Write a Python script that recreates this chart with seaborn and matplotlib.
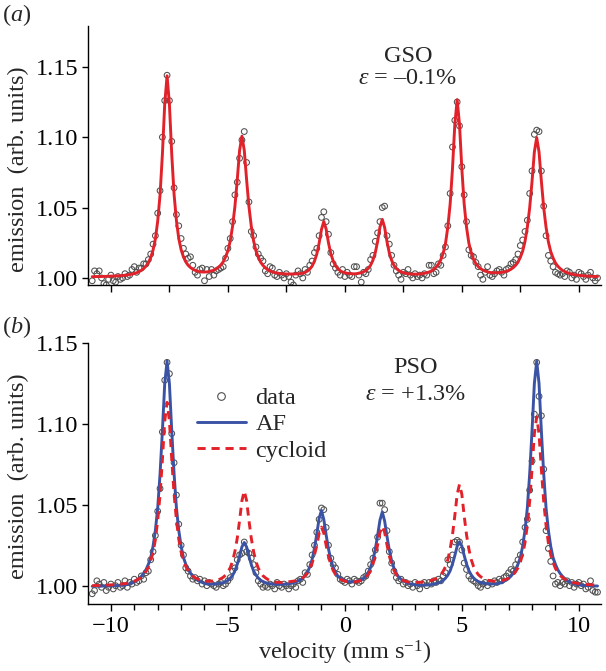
import numpy as np
import matplotlib
matplotlib.use('Agg')
import matplotlib.pyplot as plt
from matplotlib.lines import Line2D
from matplotlib.ticker import MultipleLocator, FormatStrFormatter
import seaborn as sns

# velocity channels (mm/s)
velocity = np.round(np.linspace(-10.8, 10.8, 217), 1)

# (a) GSO, epsilon = -0.1 %
gso_data = [
    0.998, 1.005, 1.003, 1.005, 1.000, 0.996, 0.995, 0.999, 1.002, 0.998,
    0.997, 1.001, 0.999, 1.000, 1.003, 1.001, 1.002, 1.006, 1.008, 1.004,
    1.007, 1.007, 1.010, 1.010, 1.013, 1.017, 1.024, 1.030, 1.046, 1.062,
    1.100, 1.126, 1.144, 1.126, 1.097, 1.064, 1.045, 1.037, 1.028, 1.021,
    1.017, 1.014, 1.015, 1.009, 1.004, 1.002, 1.006, 1.007, 0.998, 1.006,
    1.001, 1.006, 1.002, 1.005, 1.006, 1.007, 1.008, 1.014, 1.021, 1.028,
    1.040, 1.059, 1.068, 1.085, 1.098, 1.104, 1.082, 1.054, 1.033, 1.030,
    1.022, 1.017, 1.014, 1.012, 1.005, 1.003, 1.008, 1.007, 1.002, 1.001,
    1.004, 1.002, 1.000, 1.003, 1.001, 0.997, 0.995, 1.002, 1.005, 1.003,
    1.000, 1.006, 1.004, 1.009, 1.012, 1.018, 1.021, 1.030, 1.043, 1.047,
    1.040, 1.031, 1.018, 1.010, 1.007, 1.004, 1.002, 1.006, 1.001, 1.004,
    1.002, 1.001, 1.008, 1.008, 1.002, 0.997, 1.004, 1.003, 1.006, 1.013,
    1.016, 1.026, 1.032, 1.040, 1.050, 1.051, 1.030, 1.024, 1.016, 1.009,
    1.005, 1.002, 0.999, 1.004, 1.003, 1.006, 1.002, 1.000, 1.003, 1.001,
    1.002, 1.000, 1.003, 1.002, 1.009, 1.009, 1.003, 1.004, 1.010, 1.009,
    1.016, 1.022, 1.037, 1.060, 1.093, 1.112, 1.125, 1.108, 1.079, 1.059,
    1.040, 1.020, 1.016, 1.015, 1.011, 1.008, 1.002, 0.999, 1.004, 1.008,
    1.002, 1.001, 1.003, 1.005, 1.006, 1.004, 1.002, 1.006, 1.007, 1.010,
    1.011, 1.013, 1.017, 1.023, 1.027, 1.033, 1.041, 1.060, 1.076, 1.102,
    1.105, 1.104, 1.076, 1.051, 1.030, 1.016, 1.012, 1.008, 1.004, 1.003,
    1.002, 1.003, 1.001, 1.005, 1.004, 1.000, 1.002, 0.999, 1.004, 1.003,
    1.001, 0.999, 1.002, 1.004, 1.000, 0.998, 1.000,
]
gso_fit = [
    1.0009, 1.0009, 1.0010, 1.0010, 1.0010, 1.0011, 1.0011, 1.0012, 1.0013, 1.0013,
    1.0014, 1.0015, 1.0016, 1.0017, 1.0019, 1.0021, 1.0024, 1.0027, 1.0031, 1.0037,
    1.0044, 1.0054, 1.0067, 1.0084, 1.0108, 1.0144, 1.0197, 1.0276, 1.0404, 1.0590,
    1.0877, 1.1235, 1.1436, 1.1236, 1.0878, 1.0593, 1.0407, 1.0280, 1.0201, 1.0149,
    1.0114, 1.0090, 1.0074, 1.0062, 1.0054, 1.0048, 1.0044, 1.0042, 1.0042, 1.0043,
    1.0045, 1.0050, 1.0055, 1.0064, 1.0076, 1.0092, 1.0115, 1.0149, 1.0193, 1.0263,
    1.0367, 1.0507, 1.0697, 1.0906, 1.1007, 1.0907, 1.0697, 1.0507, 1.0367, 1.0262,
    1.0192, 1.0147, 1.0112, 1.0089, 1.0072, 1.0059, 1.0049, 1.0043, 1.0038, 1.0035,
    1.0032, 1.0030, 1.0029, 1.0028, 1.0028, 1.0028, 1.0028, 1.0029, 1.0029, 1.0031,
    1.0034, 1.0039, 1.0049, 1.0063, 1.0084, 1.0119, 1.0169, 1.0247, 1.0344, 1.0401,
    1.0347, 1.0249, 1.0172, 1.0121, 1.0086, 1.0066, 1.0051, 1.0042, 1.0037, 1.0033,
    1.0031, 1.0030, 1.0029, 1.0030, 1.0033, 1.0037, 1.0044, 1.0053, 1.0068, 1.0090,
    1.0126, 1.0179, 1.0260, 1.0361, 1.0416, 1.0359, 1.0258, 1.0177, 1.0125, 1.0089,
    1.0067, 1.0053, 1.0043, 1.0037, 1.0033, 1.0030, 1.0028, 1.0027, 1.0027, 1.0027,
    1.0028, 1.0030, 1.0033, 1.0037, 1.0042, 1.0050, 1.0062, 1.0076, 1.0098, 1.0129,
    1.0174, 1.0243, 1.0360, 1.0524, 1.0775, 1.1091, 1.1266, 1.1091, 1.0776, 1.0525,
    1.0361, 1.0248, 1.0179, 1.0132, 1.0102, 1.0081, 1.0066, 1.0056, 1.0048, 1.0043,
    1.0039, 1.0037, 1.0037, 1.0036, 1.0037, 1.0040, 1.0042, 1.0047, 1.0053, 1.0062,
    1.0074, 1.0090, 1.0112, 1.0146, 1.0190, 1.0259, 1.0361, 1.0498, 1.0684, 1.0895,
    1.0997, 1.0895, 1.0687, 1.0499, 1.0360, 1.0256, 1.0187, 1.0142, 1.0107, 1.0084,
    1.0067, 1.0054, 1.0045, 1.0038, 1.0032, 1.0028, 1.0024, 1.0021, 1.0019, 1.0017,
    1.0015, 1.0014, 1.0013, 1.0012, 1.0011, 1.0010, 1.0010,
]

# (b) PSO, epsilon = +1.3 %
pso_data = [
    0.995, 0.997, 1.003, 1.001, 0.999, 1.002, 0.997, 0.999, 1.001, 0.998,
    1.000, 1.002, 0.999, 1.000, 1.003, 0.999, 1.002, 1.001, 1.004, 1.002,
    1.003, 1.006, 1.004, 1.008, 1.009, 1.016, 1.021, 1.031, 1.046, 1.060,
    1.095, 1.127, 1.138, 1.131, 1.094, 1.076, 1.056, 1.038, 1.025, 1.019,
    1.011, 1.009, 1.006, 1.004, 1.005, 1.003, 1.004, 1.001, 1.003, 1.000,
    1.002, 1.001, 1.000, 0.999, 1.001, 1.002, 1.000, 1.001, 1.003, 1.005,
    1.009, 1.011, 1.016, 1.019, 1.020, 1.027, 1.021, 1.020, 1.017, 1.013,
    1.008, 1.003, 1.001, 0.999, 1.000, 0.999, 1.001, 1.000, 0.998, 1.002,
    1.000, 0.999, 1.001, 1.000, 0.998, 1.000, 1.001, 0.999, 1.003, 1.004,
    1.002, 1.008, 1.007, 1.013, 1.019, 1.025, 1.033, 1.041, 1.048, 1.047,
    1.036, 1.025, 1.017, 1.013, 1.011, 1.007, 1.004, 1.003, 1.002, 1.004,
    1.003, 1.001, 1.004, 1.003, 1.002, 1.003, 1.005, 1.006, 1.009, 1.013,
    1.017, 1.022, 1.030, 1.051, 1.051, 1.047, 1.034, 1.021, 1.014, 1.009,
    1.005, 1.003, 1.004, 1.001, 1.002, 1.000, 1.001, 0.999, 1.002, 1.000,
    0.998, 1.001, 1.002, 1.000, 1.002, 1.001, 1.003, 1.002, 1.004, 1.003,
    1.006, 1.008, 1.016, 1.013, 1.019, 1.027, 1.028, 1.027, 1.022, 1.014,
    1.010, 1.006, 1.004, 1.003, 1.002, 1.000, 0.999, 1.001, 1.002, 1.000,
    1.002, 1.001, 1.003, 1.002, 1.004, 1.003, 1.005, 1.006, 1.008, 1.010,
    1.009, 1.013, 1.016, 1.019, 1.027, 1.036, 1.041, 1.059, 1.077, 1.106,
    1.138, 1.117, 1.105, 1.072, 1.034, 1.023, 1.015, 1.006, 1.001, 1.002,
    1.000, 1.002, 1.001, 1.003, 1.000, 1.002, 0.999, 1.001, 1.002, 1.000,
    1.001, 0.998, 0.999, 1.003, 0.997, 0.996, 0.996,
]
af_fit = [
    0.9996, 0.9997, 0.9997, 0.9997, 0.9997, 0.9998, 0.9998, 0.9998, 0.9999, 1.0000,
    1.0000, 1.0001, 1.0002, 1.0003, 1.0005, 1.0007, 1.0012, 1.0017, 1.0024, 1.0032,
    1.0044, 1.0058, 1.0076, 1.0099, 1.0132, 1.0173, 1.0243, 1.0341, 1.0480, 1.0690,
    1.0955, 1.1248, 1.1388, 1.1249, 1.0956, 1.0691, 1.0481, 1.0342, 1.0244, 1.0174,
    1.0133, 1.0100, 1.0077, 1.0059, 1.0046, 1.0034, 1.0026, 1.0020, 1.0014, 1.0011,
    1.0010, 1.0009, 1.0010, 1.0011, 1.0013, 1.0016, 1.0019, 1.0025, 1.0032, 1.0046,
    1.0063, 1.0092, 1.0132, 1.0183, 1.0240, 1.0267, 1.0239, 1.0182, 1.0131, 1.0090,
    1.0066, 1.0047, 1.0033, 1.0026, 1.0019, 1.0015, 1.0012, 1.0010, 1.0009, 1.0008,
    1.0008, 1.0008, 1.0009, 1.0010, 1.0012, 1.0014, 1.0018, 1.0023, 1.0029, 1.0036,
    1.0047, 1.0061, 1.0084, 1.0116, 1.0162, 1.0231, 1.0319, 1.0417, 1.0465, 1.0409,
    1.0313, 1.0227, 1.0159, 1.0114, 1.0083, 1.0060, 1.0047, 1.0037, 1.0031, 1.0027,
    1.0024, 1.0023, 1.0025, 1.0026, 1.0030, 1.0037, 1.0046, 1.0060, 1.0082, 1.0113,
    1.0158, 1.0225, 1.0310, 1.0405, 1.0455, 1.0400, 1.0305, 1.0220, 1.0153, 1.0108,
    1.0076, 1.0054, 1.0040, 1.0030, 1.0022, 1.0015, 1.0011, 1.0008, 1.0006, 1.0003,
    1.0003, 1.0003, 1.0003, 1.0004, 1.0005, 1.0007, 1.0009, 1.0013, 1.0017, 1.0023,
    1.0032, 1.0046, 1.0065, 1.0092, 1.0134, 1.0186, 1.0244, 1.0271, 1.0245, 1.0187,
    1.0135, 1.0093, 1.0067, 1.0048, 1.0034, 1.0026, 1.0020, 1.0016, 1.0014, 1.0012,
    1.0011, 1.0011, 1.0011, 1.0012, 1.0015, 1.0020, 1.0027, 1.0034, 1.0045, 1.0059,
    1.0077, 1.0100, 1.0133, 1.0174, 1.0244, 1.0342, 1.0481, 1.0691, 1.0956, 1.1249,
    1.1388, 1.1249, 1.0955, 1.0690, 1.0480, 1.0341, 1.0243, 1.0173, 1.0132, 1.0099,
    1.0076, 1.0058, 1.0044, 1.0032, 1.0024, 1.0017, 1.0012, 1.0007, 1.0005, 1.0003,
    1.0002, 1.0001, 1.0000, 1.0000, 0.9999, 0.9998, 0.9998,
]
cycloid_fit = [
    1.0000, 1.0001, 1.0001, 1.0001, 1.0002, 1.0002, 1.0003, 1.0004, 1.0005, 1.0006,
    1.0006, 1.0008, 1.0009, 1.0011, 1.0013, 1.0015, 1.0019, 1.0023, 1.0028, 1.0035,
    1.0043, 1.0054, 1.0069, 1.0088, 1.0114, 1.0154, 1.0205, 1.0284, 1.0404, 1.0563,
    1.0778, 1.1017, 1.1133, 1.1020, 1.0781, 1.0566, 1.0407, 1.0288, 1.0209, 1.0158,
    1.0119, 1.0093, 1.0074, 1.0060, 1.0049, 1.0042, 1.0036, 1.0033, 1.0029, 1.0028,
    1.0028, 1.0028, 1.0030, 1.0032, 1.0037, 1.0043, 1.0052, 1.0065, 1.0085, 1.0111,
    1.0151, 1.0212, 1.0293, 1.0403, 1.0525, 1.0585, 1.0526, 1.0403, 1.0293, 1.0210,
    1.0149, 1.0108, 1.0082, 1.0061, 1.0049, 1.0039, 1.0032, 1.0026, 1.0023, 1.0021,
    1.0021, 1.0020, 1.0021, 1.0022, 1.0024, 1.0026, 1.0028, 1.0031, 1.0035, 1.0041,
    1.0049, 1.0061, 1.0077, 1.0102, 1.0139, 1.0190, 1.0248, 1.0324, 1.0362, 1.0325,
    1.0249, 1.0181, 1.0132, 1.0094, 1.0069, 1.0053, 1.0041, 1.0033, 1.0028, 1.0025,
    1.0023, 1.0023, 1.0023, 1.0025, 1.0028, 1.0034, 1.0041, 1.0053, 1.0069, 1.0094,
    1.0132, 1.0183, 1.0252, 1.0329, 1.0367, 1.0330, 1.0253, 1.0184, 1.0132, 1.0094,
    1.0068, 1.0052, 1.0039, 1.0032, 1.0027, 1.0023, 1.0021, 1.0020, 1.0020, 1.0021,
    1.0021, 1.0022, 1.0024, 1.0026, 1.0029, 1.0033, 1.0038, 1.0045, 1.0055, 1.0067,
    1.0089, 1.0117, 1.0160, 1.0226, 1.0314, 1.0432, 1.0564, 1.0626, 1.0565, 1.0432,
    1.0315, 1.0227, 1.0162, 1.0119, 1.0091, 1.0069, 1.0056, 1.0046, 1.0039, 1.0034,
    1.0031, 1.0029, 1.0028, 1.0028, 1.0029, 1.0032, 1.0035, 1.0040, 1.0047, 1.0056,
    1.0069, 1.0087, 1.0110, 1.0146, 1.0193, 1.0266, 1.0375, 1.0522, 1.0720, 1.0939,
    1.1043, 1.0938, 1.0718, 1.0520, 1.0373, 1.0263, 1.0190, 1.0143, 1.0107, 1.0082,
    1.0064, 1.0050, 1.0040, 1.0033, 1.0026, 1.0022, 1.0018, 1.0015, 1.0013, 1.0011,
    1.0009, 1.0008, 1.0007, 1.0006, 1.0005, 1.0004, 1.0004,
]

y_ticks = [1.00, 1.05, 1.10, 1.15]
legend_labels = ['data', 'AF', 'cycloid']

for arr in (gso_data, gso_fit, pso_data, af_fit, cycloid_fit):
    assert len(arr) == len(velocity), len(arr)

sns.set_theme(style='ticks')
plt.rcParams['font.family'] = ['Liberation Serif', 'DejaVu Serif']
plt.rcParams['mathtext.fontset'] = 'custom'
plt.rcParams['mathtext.rm'] = 'Liberation Serif'
plt.rcParams['mathtext.it'] = 'Liberation Serif:italic'
plt.rcParams['mathtext.bf'] = 'Liberation Serif:bold'
plt.rcParams['axes.unicode_minus'] = True

FS = 17.5
RED = '#e1222a'
BLUE = '#3a53a4'
GREY = '#505050'
LW = 2.1
DASH = (0, (2.8, 2.0))

fig = plt.figure(figsize=(6.06, 6.71), dpi=100)
ax1 = fig.add_axes([0.1452, 0.5753, 0.8466, 0.3860])
ax2 = fig.add_axes([0.1452, 0.0999, 0.8466, 0.3890])


def draw_points(ax, y):
    sns.scatterplot(x=velocity, y=y, ax=ax, marker='o', s=17, linewidth=0.8,
                    legend=False, zorder=2)
    coll = ax.collections[-1]
    coll.set_facecolor('none')
    coll.set_edgecolor(GREY)
    coll.set_linewidth(0.75)


draw_points(ax1, gso_data)
sns.lineplot(x=velocity, y=gso_fit, ax=ax1, color=RED, linewidth=LW,
             estimator=None, sort=False, zorder=3)

draw_points(ax2, pso_data)
sns.lineplot(x=velocity, y=af_fit, ax=ax2, color=BLUE, linewidth=LW,
             estimator=None, sort=False, zorder=3)
sns.lineplot(x=velocity, y=cycloid_fit, ax=ax2, color=RED, linewidth=LW,
             estimator=None, sort=False, zorder=4, linestyle=DASH)

for ax in (ax1, ax2):
    ax.set_xlim(-10.98, 10.95)
    ax.set_yticks(y_ticks)
    ax.yaxis.set_major_formatter(FormatStrFormatter('%.2f'))
    for side in ('top', 'right'):
        ax.spines[side].set_visible(False)
    for side in ('left', 'bottom'):
        ax.spines[side].set_linewidth(1.0)
        ax.spines[side].set_color('black')
    ax.tick_params(axis='both', which='both', direction='out', colors='black',
                   width=1.0, labelsize=FS)
    ax.tick_params(axis='y', length=4, pad=3)
    ax.set_xlabel('')
    ax.set_ylabel('')

ax1.set_ylim(0.995, 1.179)
ax1.set_xticks(np.arange(-10, 10.1, 2.5))
ax1.tick_params(axis='x', length=5, labelbottom=False)

ax2.set_ylim(0.9887, 1.15)
ax2.set_xticks([-10, -5, 0, 5, 10])
ax2.xaxis.set_minor_locator(MultipleLocator(1))
ax2.tick_params(axis='x', which='major', length=5, pad=4)
ax2.tick_params(axis='x', which='minor', length=4)
ax2.set_xlabel('velocity (mm s$^{-1}$)', fontsize=FS, labelpad=1)

ax1.text(2.7, 1.1576, 'GSO', ha='center', va='center', fontsize=FS)
ax1.text(2.7, 1.1416, r'$\varepsilon$ = –0.1%', ha='center', va='center', fontsize=FS)
ax2.text(3.0, 1.135, 'PSO', ha='center', va='center', fontsize=FS)
ax2.text(3.0, 1.118, r'$\varepsilon$ = +1.3%', ha='center', va='center', fontsize=FS)

handles = [
    Line2D([], [], ls='none', marker='o', ms=5.5, mfc='none', mec=GREY, mew=0.8),
    Line2D([], [], color=BLUE, lw=LW),
    Line2D([], [], color=RED, lw=LW, ls=DASH),
]
ax2.legend(handles, legend_labels, loc='upper left', bbox_to_anchor=(0.2125, 0.83),
           frameon=False, fontsize=FS, handlelength=2.0, handletextpad=0.4,
           labelspacing=0.17, borderpad=0, borderaxespad=0)

fig.text(0.03, 0.748, 'emission  (arb. units)', rotation=90, ha='center', va='center', fontsize=FS)
fig.text(0.03, 0.2906, 'emission  (arb. units)', rotation=90, ha='center', va='center', fontsize=FS)
fig.text(0.003, 0.978, '($a$)', ha='left', va='center', fontsize=FS)
fig.text(0.003, 0.5127, '($b$)', ha='left', va='center', fontsize=FS)

fig.savefig('out.png', dpi=100)
